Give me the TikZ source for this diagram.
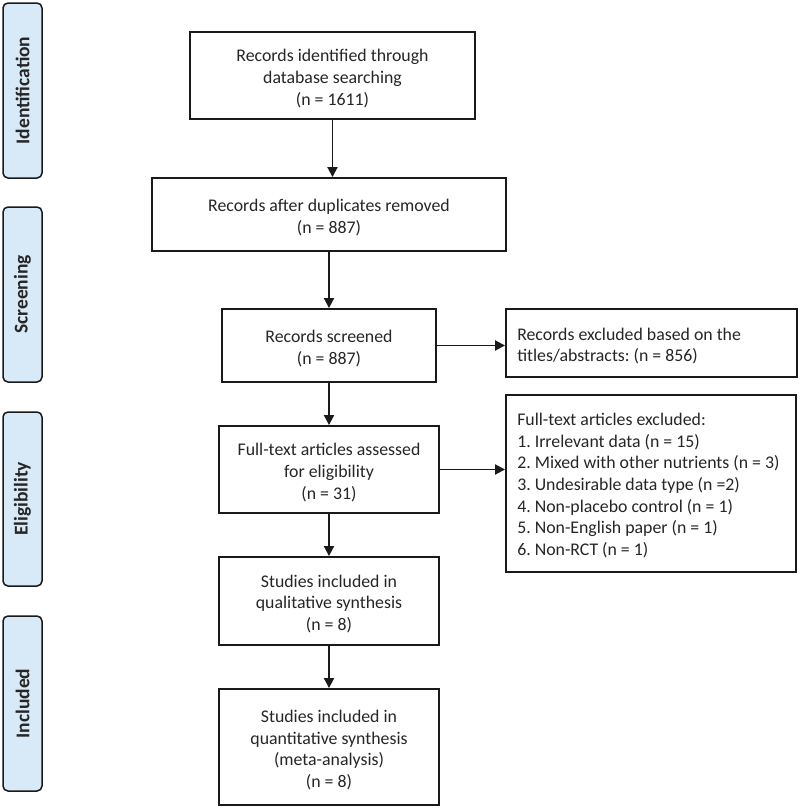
\documentclass[tikz,border=0pt]{standalone}
\usepackage{fontspec}
\setmainfont{Carlito}
\usetikzlibrary{arrows.meta}
\definecolor{sidefill}{HTML}{D8EAF7}
\definecolor{linec}{HTML}{1A1A1A}
\tikzset{
  box/.style={draw=linec, line width=1.9pt, fill=white, inner sep=0pt},
  boxtext/.style={inner sep=0pt, align=center, font=\fontsize{17.8}{21.8}\selectfont, text=black!85},
  rtext/.style={inner sep=0pt, align=left, font=\fontsize{17.8}{21.6}\selectfont, text=black!85},
  side/.style={draw=linec, line width=1.5pt, fill=sidefill, rounded corners=5pt, inner sep=0pt},
  sidetext/.style={rotate=90, inner sep=0pt, font=\bfseries\fontsize{19.5}{22}\selectfont, text=black!85},
  arr/.style={draw=linec, line width=1.9pt, -{Triangle[length=10pt,width=10pt]}}
}
\begin{document}
\frenchspacing
\begin{tikzpicture}[x=1pt,y=-1pt]
\useasboundingbox (0,0) rectangle (800,809);
\fill[white] (0,0) rectangle (800,809);

% side labels
\node[side, minimum width=39pt, minimum height=175pt] (s1) at (22.5,90.5) {};
\node[sidetext] (t1) at (s1.center) {Identification};
\node[side, minimum width=39pt, minimum height=175pt] (s2) at (22.5,294.5) {};
\node[sidetext] (t2) at (s2.center) {Screening};
\node[side, minimum width=39pt, minimum height=174pt] (s3) at (22.5,499) {};
\node[sidetext] (t3) at (s3.center) {Eligibility};
\node[side, minimum width=39pt, minimum height=175pt] (s4) at (22.5,703.5) {};
\node[sidetext] (t4) at (s4.center) {Included};

% main boxes
\node[box, minimum width=285pt, minimum height=87pt] (b1) at (332.5,75.5) {};
\node[boxtext] (b1t) at ([yshift=-3pt]b1.center) {Records identified through\\database searching\\(n = 1611)};
\node[box, minimum width=354pt, minimum height=73pt] (b2) at (329,214.5) {};
\node[boxtext] (b2t) at ([yshift=-3pt]b2.center) {Records after duplicates removed\\(n = 887)};
\node[box, minimum width=214pt, minimum height=73pt] (b3) at (329,345.5) {};
\node[boxtext] (b3t) at ([yshift=-3pt]b3.center) {Records screened\\(n = 887)};
\node[box, minimum width=220pt, minimum height=87pt] (b4) at (329,469.5) {};
\node[boxtext] (b4t) at ([yshift=-3pt]b4.center) {Full-text articles assessed\\for eligibility\\(n = 31)};
\node[box, minimum width=220pt, minimum height=88pt] (b5) at (329,601) {};
\node[boxtext] (b5t) at ([yshift=-3pt]b5.center) {Studies included in\\qualitative synthesis\\(n = 8)};
\node[box, minimum width=220pt, minimum height=116pt] (b6) at (329,747) {};
\node[boxtext] (b6t) at ([yshift=-3pt]b6.center) {Studies included in\\quantitative synthesis\\(meta-analysis)\\(n = 8)};

% right boxes
\node[box, minimum width=291pt, minimum height=68pt] (r1) at (651.5,343) {};
\node[rtext, anchor=west] (r1t) at ([xshift=12pt,yshift=-3pt]r1.west) {Records excluded based on the\\titles/abstracts: (n = 856)};
\node[box, minimum width=290pt, minimum height=177pt] (r2) at (651,483.5) {};
\node[rtext, anchor=west] (r2t) at ([xshift=12pt,yshift=-2pt]r2.west) {Full-text articles excluded:\\1. Irrelevant data (n = 15)\\2. Mixed with other nutrients (n = 3)\\3. Undesirable data type (n =2)\\4. Non-placebo control (n = 1)\\5. Non-English paper (n = 1)\\6. Non-RCT (n = 1)};

% arrows
\coordinate (b2top) at (b1.south |- b2.north);
\draw[arr] (b1.south) -- (b2top);
\draw[arr] (b2.south) -- (b3.north);
\draw[arr] (b3.south) -- (b4.north);
\draw[arr] (b4.south) -- (b5.north);
\draw[arr] (b5.south) -- (b6.north);
\draw[arr] (b3.east) -- (b3.east -| r1.west);
\draw[arr] (b4.east) -- (b4.east -| r2.west);
\end{tikzpicture}
\end{document}
